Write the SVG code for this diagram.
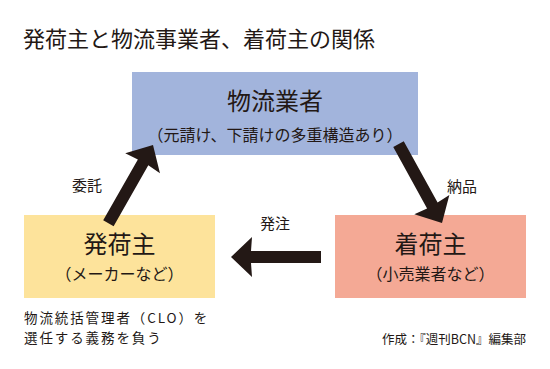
<svg xmlns="http://www.w3.org/2000/svg" xmlns:xlink="http://www.w3.org/1999/xlink" width="550" height="369" viewBox="0 0 550 369">
<style>
text{font-family:"Noto Sans CJK JP","Noto Sans",sans-serif;fill:#231815}
.title{font-size:22px}
.big{font-size:24px;text-anchor:middle}
.sub{font-size:16px;text-anchor:middle}
.lbl{font-size:15px}
.note{font-size:13.5px;letter-spacing:1.9px}
.credit{font-size:12.5px;text-anchor:end}
.arrow{fill:#231815}
</style>
<defs>
<polygon id="arrowShape" class="arrow" points="0,0 -21,-20 -20,-6 -90,-6 -90,6 -20,6 -21,20"/>
</defs>
<rect width="550" height="369" fill="#ffffff"/>
<text class="title" x="23" y="47">発荷主と物流事業者、着荷主の関係</text>
<g id="logistics">
<rect x="132" y="72" width="286" height="83" fill="#a2b4dc"/>
<text class="big" x="275" y="110">物流業者</text>
<text class="sub" x="275" y="141">（元請け、下請けの多重構造あり）</text>
</g>
<g id="shipper">
<rect x="24" y="215" width="191" height="83" fill="#fde39b"/>
<text class="big" x="119.5" y="253">発荷主</text>
<text class="sub" x="119.5" y="280">（メーカーなど）</text>
</g>
<g id="consignee">
<rect x="335" y="215" width="191" height="83" fill="#f4a995"/>
<text class="big" x="430.5" y="253">着荷主</text>
<text class="sub" x="430.5" y="280">（小売業者など）</text>
</g>
<g id="connectors">
<use xlink:href="#arrowShape" transform="translate(153,145) rotate(-60.3)"/>
<use xlink:href="#arrowShape" transform="translate(442,223) rotate(61.1)"/>
<use xlink:href="#arrowShape" transform="translate(231,257) rotate(180)"/>
<text class="lbl" x="72" y="191">委託</text>
<text class="lbl" x="447" y="192">納品</text>
<text class="lbl" x="260" y="229">発注</text>
</g>
<g id="notes">
<text class="note" x="24" y="323">物流統括管理者（CLO）を</text>
<text class="note" x="24" y="343">選任する義務を負う</text>
<text class="credit" x="526" y="344">作成：『週刊BCN』編集部</text>
</g>
</svg>
